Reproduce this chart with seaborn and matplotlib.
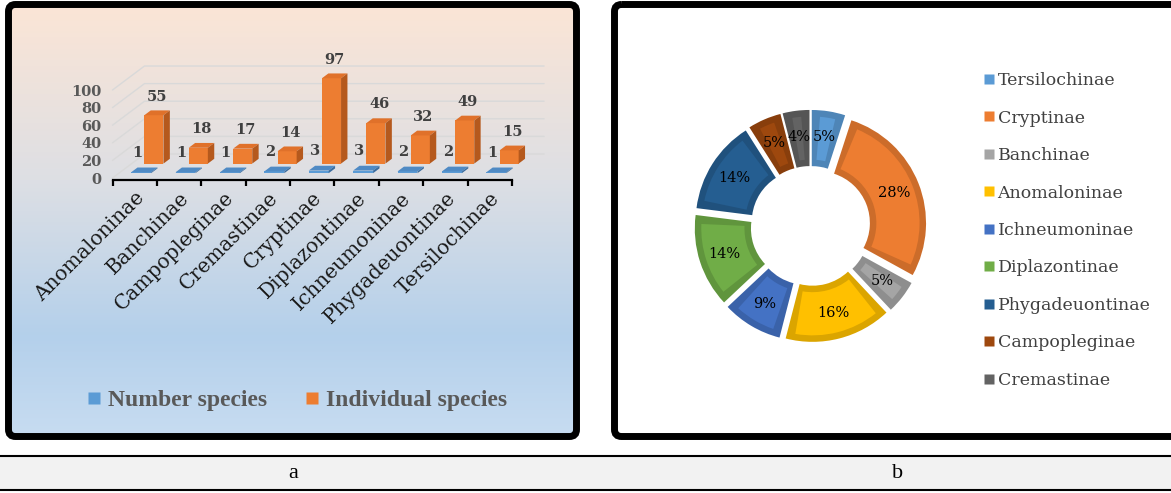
import numpy as np
import pandas as pd
import matplotlib
matplotlib.use("Agg")
import matplotlib.pyplot as plt
import seaborn as sns
from matplotlib.patches import Polygon, FancyBboxPatch, Rectangle, Wedge
from matplotlib.lines import Line2D
from matplotlib.colors import to_rgb

# ---- data -------------------------------------------------------------
subfamilies = ["Anomaloninae", "Banchinae", "Campopleginae", "Cremastinae",
               "Cryptinae", "Diplazontinae", "Ichneumoninae",
               "Phygadeuontinae", "Tersilochinae"]
number_species = [1, 1, 1, 2, 3, 3, 2, 2, 1]
individual_species = [55, 18, 17, 14, 97, 46, 32, 49, 15]
y_ticks = [0, 20, 40, 60, 80, 100]
series_names = ["Number species", "Individual species"]

pie_labels = ["Tersilochinae", "Cryptinae", "Banchinae", "Anomaloninae",
              "Ichneumoninae", "Diplazontinae", "Phygadeuontinae",
              "Campopleginae", "Cremastinae"]
pie_percent = [5, 28, 5, 16, 9, 14, 14, 5, 4]
panel_labels = ["a", "b"]

# ---- styling ----------------------------------------------------------
BLUE = "#5B9BD5"
ORANGE = "#ED7D31"
pie_colors = ["#5B9BD5", "#ED7D31", "#A5A5A5", "#FFC000", "#4472C4",
              "#70AD47", "#255E91", "#9E480E", "#636363"]

sns.set_theme(style="white")
plt.rcParams["font.family"] = ["DejaVu Serif", "DejaVu Sans"]

W, H = 1171, 493
fig = plt.figure(figsize=(W / 100, H / 100), dpi=100)


def shade(color, f):
    return tuple(min(1.0, c * f) for c in to_rgb(color))


# ---- background layer: frames, gradient, caption strip ---------------
bg = fig.add_axes([0, 0, 1, 1], zorder=0)
stops_y = [8, 180, 335, 434]
stops_c = [(251, 229, 214), (221, 223, 228), (180, 208, 235), (199, 220, 241)]
ys = np.arange(8, 434)
grad = np.stack([np.interp(ys, stops_y, [c[k] for c in stops_c]) for k in range(3)],
                axis=-1) / 255.0
bg.imshow(grad[:, None, :], extent=(12, 573, 434, 8), aspect="auto",
          interpolation="bilinear", zorder=0)
bg.add_patch(FancyBboxPatch((8.5, 4.5), 568, 432,
                            boxstyle="round,pad=0,rounding_size=7",
                            fill=False, ec="black", lw=5.0, zorder=2))
bg.add_patch(FancyBboxPatch((614.5, 4.5), 600, 432,
                            boxstyle="round,pad=0,rounding_size=7",
                            fill=False, ec="black", lw=5.0, zorder=2))
bg.add_patch(Rectangle((0, 456), W, 34, fc="#F2F2F2", ec="none", zorder=1))
bg.hlines([456, 490], 0, W, colors="black", lw=1.5, zorder=2)
for xc, lab in zip([293, 898], panel_labels):
    bg.text(xc, 474, lab, ha="center", va="center", fontsize=16,
            family=["Liberation Serif"], color="black")
bg.set_xlim(0, W)
bg.set_ylim(H, 0)
bg.axis("off")

# ---- panel a: pseudo-3D column chart ---------------------------------
PX_CAT, PX_UNIT = 44.4, 0.88          # pixels per category / per count
X0_PX, Y0_PX = 134.7, 178.0           # pixel of category 0 / value 0
L, R, T, B = 12, 573, 8, 434
ax1 = fig.add_axes([L / W, 1 - B / H, (R - L) / W, (B - T) / H], zorder=2)
ax1.patch.set_visible(False)

DX, DY = 32 / PX_CAT, 24 / PX_UNIT    # full depth of the floor
ROW_BLUE, ROW_ORANGE, SLAB = 0.2, 0.6, 0.2

df = pd.DataFrame({"Subfamily": subfamilies,
                   series_names[0]: number_species,
                   series_names[1]: individual_species})

sns.barplot(data=df, x="Subfamily", y=series_names[1], color=ORANGE,
            saturation=1, width=0.43, errorbar=None, ax=ax1,
            bottom=ROW_ORANGE * DY, zorder=3, linewidth=0)
orange_bars = list(ax1.containers[-1])
sns.barplot(data=df, x="Subfamily", y=series_names[0], color=BLUE,
            saturation=1, width=0.45, errorbar=None, ax=ax1,
            bottom=ROW_BLUE * DY, zorder=5, linewidth=0)
blue_bars = list(ax1.containers[-1])


def extrude(bars, row, top_color, side_color, z):
    tx, ty = SLAB * DX, SLAB * DY
    for p in bars:
        p.set_x(p.get_x() + row * DX)
        x, y, w, h = p.get_x(), p.get_y(), p.get_width(), p.get_height()
        ax1.add_patch(Polygon([(x, y + h), (x + w, y + h), (x + w + tx, y + h + ty),
                               (x + tx, y + h + ty)], closed=True, fc=top_color,
                              ec="none", zorder=z))
        ax1.add_patch(Polygon([(x + w, y), (x + w + tx, y + ty),
                               (x + w + tx, y + h + ty), (x + w, y + h)],
                              closed=True, fc=side_color, ec="none", zorder=z))
    return tx, ty


tx, ty = extrude(orange_bars, ROW_ORANGE, "#E0712A", "#B5591D", 3)
extrude(blue_bars, ROW_BLUE, "#4F8AC4", "#3A6C9E", 5)

# back wall gridlines running from the front edge to the back wall
for v in y_ticks:
    ax1.plot([-0.5, -0.5 + DX, 8.5 + DX], [v, v + DY, v + DY],
             color="#d9d9d9", lw=1.0, zorder=1)

# value labels
for p, v in zip(orange_bars, individual_species):
    ax1.annotate(f"{v}", (p.get_x() + p.get_width() / 2 + tx / 2,
                          p.get_y() + p.get_height() + ty),
                 xytext=(0, 10), textcoords="offset points", ha="center",
                 va="center", fontsize=10.5, fontweight="bold", color="#404040",
                 zorder=6)
for p, v in zip(blue_bars, number_species):
    ax1.annotate(f"{v}", (p.get_x() + p.get_width() / 2,
                          p.get_y() + p.get_height() + ty),
                 xytext=(-3, 10.5), textcoords="offset points", ha="center",
                 va="center", fontsize=10.5, fontweight="bold", color="#404040",
                 zorder=6)

ax1.set_xlim((L - X0_PX) / PX_CAT, (R - X0_PX) / PX_CAT)
ax1.set_ylim((Y0_PX - B) / PX_UNIT, (Y0_PX - T) / PX_UNIT)
ax1.set_xlabel("")
ax1.set_ylabel("")
for s in ["top", "right"]:
    ax1.spines[s].set_visible(False)
ax1.spines["left"].set_position(("data", -0.5))
ax1.spines["left"].set_color("none")
ax1.spines["bottom"].set_position(("data", -2.5))
ax1.spines["bottom"].set_bounds(-0.5, 8.5)
ax1.spines["bottom"].set_color("black")
ax1.spines["bottom"].set_linewidth(1.6)
ax1.set_yticks(y_ticks)
ax1.set_yticklabels([str(v) for v in y_ticks], fontsize=10.5, fontweight="bold",
                    color="#595959")
ax1.tick_params(axis="y", length=0, pad=8)
ax1.set_xticks(range(len(subfamilies)))
ax1.set_xticklabels(subfamilies, rotation=45, ha="right", rotation_mode="anchor",
                    fontsize=14.5, color="#1a1a1a")
ax1.set_xticks(np.arange(-0.5, len(subfamilies)), minor=True)
ax1.tick_params(axis="x", which="major", length=0, pad=6)
ax1.tick_params(axis="x", which="minor", length=4, width=1.6, color="black",
                direction="out", bottom=True)

handles = [Line2D([], [], ls="none", marker="s", markersize=8, mfc=BLUE, mec="none"),
           Line2D([], [], ls="none", marker="s", markersize=8, mfc=ORANGE, mec="none")]
fig.legend(handles, series_names, loc="center", bbox_to_anchor=(297 / W, 1 - 400 / H),
           ncol=2, frameon=False, handlelength=0.6, handletextpad=0.3,
           columnspacing=1.6, borderpad=0,
           prop=dict(family="Liberation Serif", weight="bold", size=17),
           labelcolor="#595959")

# ---- panel b: exploded doughnut --------------------------------------
CX, CY, RP = 810.5, 226.0, 108.0
half = 1.2 * RP
ax2 = fig.add_axes([(CX - half) / W, 1 - (CY + half) / H, 2 * half / W, 2 * half / H],
                   zorder=2)
RING = 0.52
wedges, _, autotexts = ax2.pie(
    pie_percent, colors=[shade(c, 0.86) for c in pie_colors],
    explode=[0.075] * len(pie_percent),
    startangle=90, counterclock=False, radius=1.0,
    wedgeprops=dict(width=RING, linewidth=0),
    autopct=lambda p: f"{p:.0f}%", pctdistance=0.76,
    textprops=dict(fontsize=10.5, color="black", family="DejaVu Serif"))

# lighter inner face of each bevelled segment
BAND = 0.06
for w, c in zip(wedges, pie_colors):
    mid = w.r - w.width / 2
    dtheta = np.degrees(BAND / mid)
    ax2.add_patch(Wedge(w.center, w.r - BAND, w.theta1 + dtheta, w.theta2 - dtheta,
                        width=w.width - 2 * BAND, fc=c, ec="none", zorder=1.5))
for t in autotexts:
    t.set_zorder(4)
ax2.set_xlim(-1.2, 1.2)
ax2.set_ylim(-1.2, 1.2)
ax2.set_aspect("equal")
ax2.axis("off")

pie_handles = [Line2D([], [], ls="none", marker="s", markersize=7.2, mfc=c, mec="none")
               for c in pie_colors]
fig.legend(pie_handles, pie_labels, loc="center left",
           bbox_to_anchor=(975 / W, 1 - 230.5 / H), frameon=False,
           handlelength=0.6, handletextpad=0.2, labelspacing=1.18, borderpad=0,
           prop=dict(family="DejaVu Serif", size=12.5), labelcolor="#404040")

fig.savefig("out.png", dpi=100)
